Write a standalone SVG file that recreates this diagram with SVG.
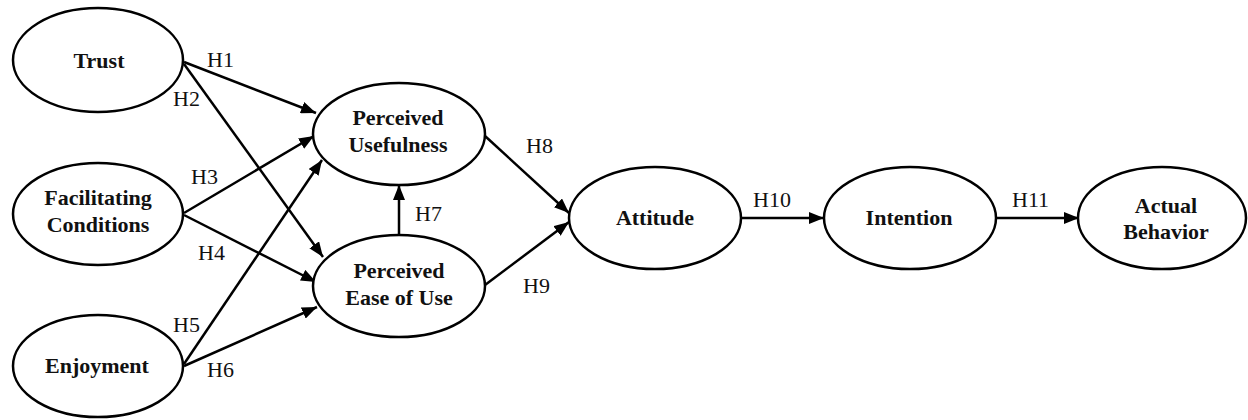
<svg xmlns="http://www.w3.org/2000/svg" width="1248" height="420" viewBox="0 0 1248 420">
<style>
.node ellipse{fill:#fff;stroke:#000;stroke-width:2.5}
.node text{font-family:"Liberation Serif","Times New Roman",serif;font-weight:bold;font-size:22px;text-anchor:middle;fill:#111}
.edge{stroke:#000;stroke-width:2.5;fill:none;marker-end:url(#arr)}
.lbl{font-family:"Liberation Serif","Times New Roman",serif;font-size:22px;fill:#111}
</style>
<defs>
<marker id="arr" markerUnits="userSpaceOnUse" markerWidth="16" markerHeight="12" refX="15" refY="6" orient="auto">
<path d="M0,0 L15,6 L0,12 z" fill="#000"/>
</marker>
</defs>
<rect width="1248" height="420" fill="#fff"/>
<g id="connectors">
<line class="edge" x1="184" y1="62" x2="316" y2="113"/>
<line class="edge" x1="184" y1="64" x2="323" y2="257"/>
<line class="edge" x1="184" y1="213" x2="314" y2="136"/>
<line class="edge" x1="184" y1="215" x2="316" y2="282"/>
<line class="edge" x1="184" y1="364" x2="322" y2="160"/>
<line class="edge" x1="184" y1="366" x2="317" y2="307"/>
<line class="edge" x1="399" y1="235" x2="399" y2="185"/>
<line class="edge" x1="485" y1="136" x2="569" y2="213"/>
<line class="edge" x1="485" y1="285" x2="569" y2="222"/>
<line class="edge" x1="741" y1="218" x2="824" y2="218"/>
<line class="edge" x1="996" y1="218" x2="1079" y2="218"/>
<text class="lbl" x="207" y="67">H1</text>
<text class="lbl" x="173" y="106">H2</text>
<text class="lbl" x="191" y="184">H3</text>
<text class="lbl" x="198" y="260">H4</text>
<text class="lbl" x="173" y="332">H5</text>
<text class="lbl" x="207" y="377">H6</text>
<text class="lbl" x="415" y="221">H7</text>
<text class="lbl" x="526" y="153">H8</text>
<text class="lbl" x="523" y="293">H9</text>
<text class="lbl" x="753" y="207">H10</text>
<text class="lbl" x="1012" y="207">H11</text>
</g>
<g id="trust" class="node"><ellipse cx="98" cy="60" rx="85" ry="52"/><text x="99" y="68">Trust</text></g>
<g id="facilitating" class="node"><ellipse cx="98" cy="214" rx="85" ry="51"/><text x="98" y="205">Facilitating</text><text x="98" y="232">Conditions</text></g>
<g id="enjoyment" class="node"><ellipse cx="98" cy="366" rx="85" ry="51"/><text x="97" y="373">Enjoyment</text></g>
<g id="pu" class="node"><ellipse cx="399" cy="134" rx="86" ry="51"/><text x="398" y="125">Perceived</text><text x="398" y="152">Usefulness</text></g>
<g id="peou" class="node"><ellipse cx="399" cy="286" rx="86" ry="51"/><text x="399" y="278">Perceived</text><text x="399" y="305">Ease of Use</text></g>
<g id="attitude" class="node"><ellipse cx="655" cy="218" rx="86" ry="51"/><text x="655" y="225">Attitude</text></g>
<g id="intention" class="node"><ellipse cx="910" cy="218" rx="86" ry="51"/><text x="909" y="225">Intention</text></g>
<g id="behavior" class="node"><ellipse cx="1162" cy="218" rx="84" ry="51"/><text x="1166" y="213">Actual</text><text x="1166" y="239">Behavior</text></g>
</svg>
